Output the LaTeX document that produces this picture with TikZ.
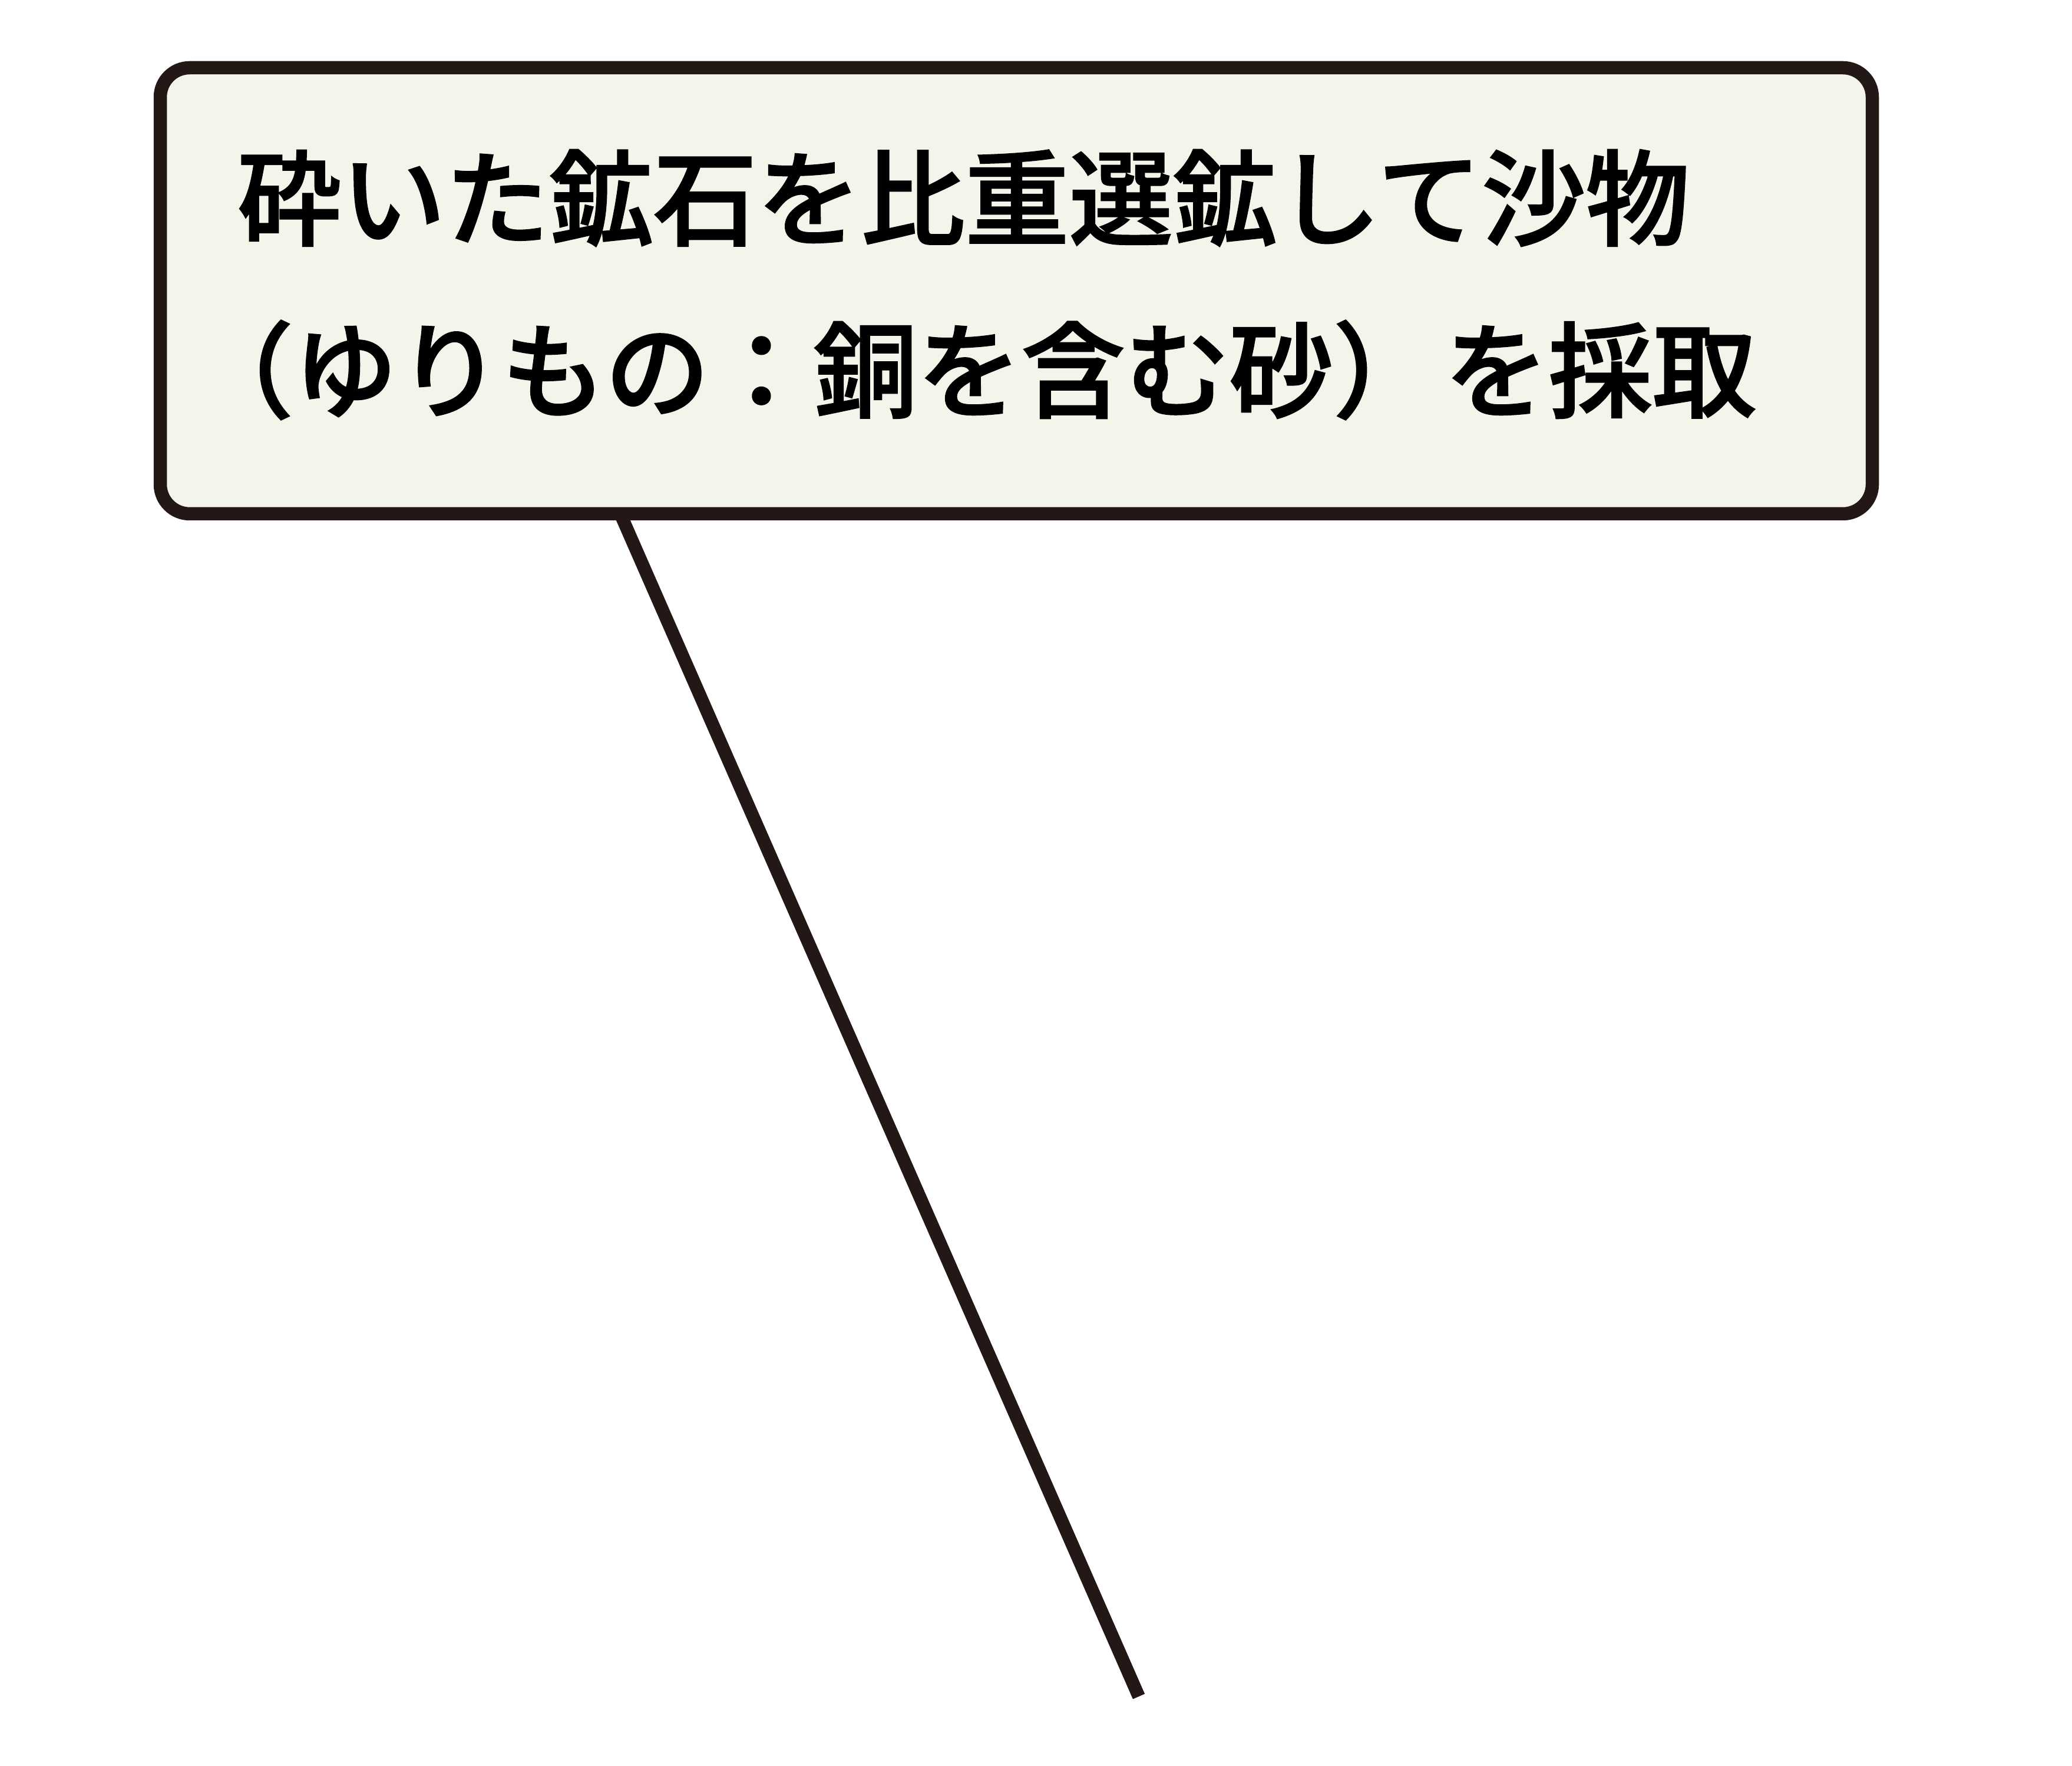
\documentclass[tikz,border=0pt]{standalone}
\usepackage{fontspec}
\newfontfamily\jp{Noto Sans CJK JP Medium}[FakeBold=1.5]
\definecolor{inkdark}{RGB}{35,24,21}
\definecolor{boxfill}{RGB}{243,245,234}
\tikzset{
  callout/.style={draw=inkdark, fill=boxfill, line width=0.225cm, rounded corners=0.5cm,
    minimum width=29.06cm, minimum height=7.57cm, inner sep=0pt, outer sep=0pt},
  txt/.style={inner sep=0pt, outer sep=0pt, anchor=base west, text=black,
    font=\jp\fontsize{50.2pt}{60pt}\selectfont},
  conn/.style={draw=inkdark, line width=0.22cm, line cap=butt}
}
\begin{document}
\begin{tikzpicture}
\useasboundingbox (0,0) rectangle (35.17,29.96);
\node[callout] (box) at (17.25,25.025) {};
\node[txt] (l1) at (4.03,25.93) {砕いた鉱石を比重選鉱して沙物};
\node[txt] (l2a) at (3.22,23.01) {（ゆりもの：銅を含む砂）};
\node[txt] (l2b) at (24.52,23.01) {を採取};
\coordinate (s) at (10.53,21.24);
\coordinate (tip) at (19.33,1.17);
\draw[conn] (s) -- (tip);
\end{tikzpicture}
\end{document}
